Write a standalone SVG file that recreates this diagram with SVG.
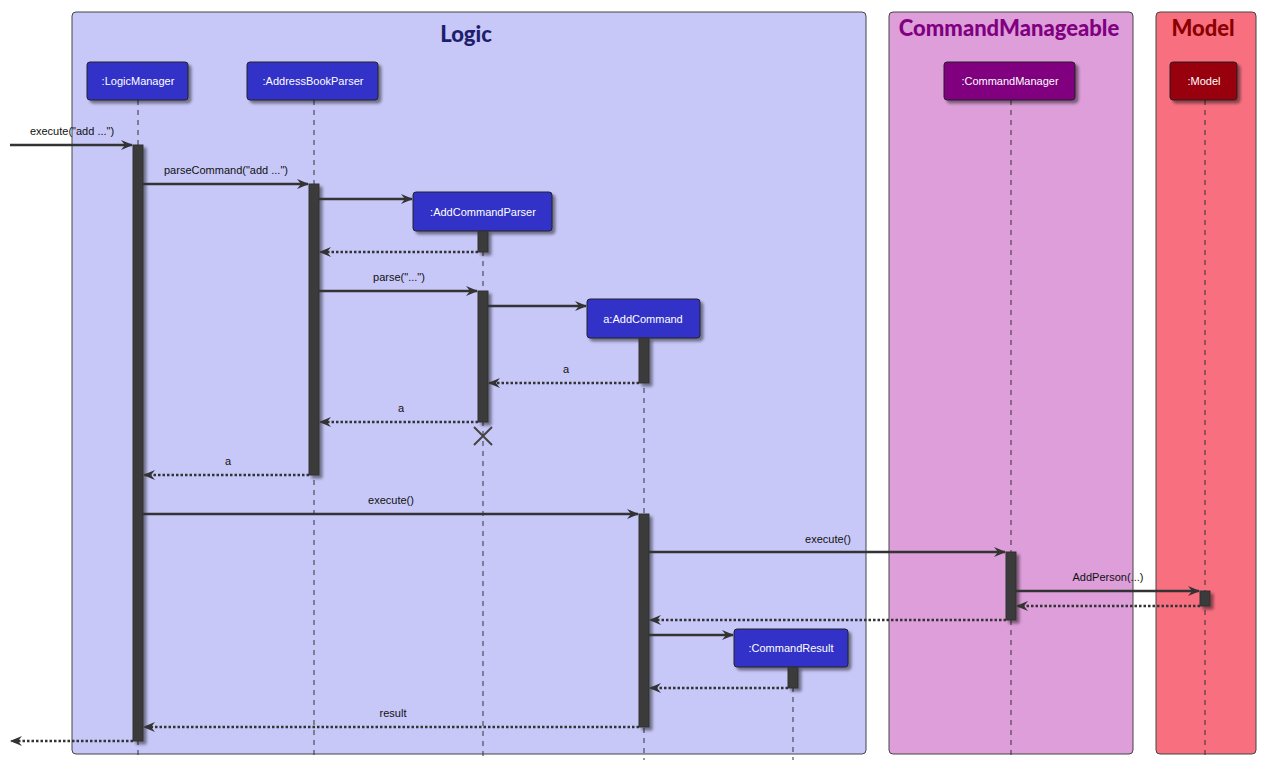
<svg xmlns="http://www.w3.org/2000/svg" width="1265" height="772" viewBox="0 0 1265 772">
<style>
.box{stroke:#444;stroke-width:1}
.title{font-family:Lato,"DejaVu Sans",sans-serif;font-weight:900;font-size:22px;text-anchor:middle}
.part{stroke:#222;stroke-width:1}
.plabel{font-family:"Liberation Sans",Arial,sans-serif;font-size:11px;fill:#fff;text-anchor:middle}
.life{stroke:#333;stroke-width:1;stroke-dasharray:5,5;fill:none}
.act{fill:#3a3a3a;stroke:#333;stroke-width:1}
.msg{stroke:#333;stroke-width:2.5;fill:none;marker-end:url(#ah)}
.ret{stroke:#333;stroke-width:2.5;stroke-dasharray:2.5,2;fill:none;marker-end:url(#ah)}
.mlabel{font-family:"Liberation Sans",Arial,sans-serif;font-size:11px;fill:#111;text-anchor:middle}
</style>
<defs>
<marker id="ah" viewBox="0 0 12 10" refX="11" refY="5" markerWidth="12" markerHeight="10" markerUnits="userSpaceOnUse" orient="auto">
<path d="M0,0 L12,5 L0,10 L4,5 Z" fill="#333"/>
</marker>
<filter id="sh" x="-20%" y="-20%" width="150%" height="160%">
<feGaussianBlur in="SourceAlpha" stdDeviation="1.5"/>
<feOffset dx="3" dy="3" result="b"/>
<feComponentTransfer><feFuncA type="linear" slope="0.45"/></feComponentTransfer>
<feMerge><feMergeNode/><feMergeNode in="SourceGraphic"/></feMerge>
</filter>
</defs>
<rect width="1265" height="772" fill="#fff"/>
<g id="box-logic">
<rect class="box" x="72" y="12" width="794" height="742" rx="4" fill="#C8C8F8"/>
<text class="title" x="466" y="42" fill="#1E1E6E">Logic</text>
</g>
<g id="box-commandmanageable">
<rect class="box" x="889" y="12" width="244" height="742" rx="4" fill="#DD9EDA"/>
<text class="title" x="1009" y="36" fill="#800080" font-size="18">CommandManageable</text>
</g>
<g id="box-model">
<rect class="box" x="1156" y="12" width="100" height="742" rx="4" fill="#F87080"/>
<text class="title" x="1203" y="36" fill="#8B0000" font-size="18">Model</text>
</g>
<g id="lifelines">
<line class="life" x1="138" y1="100" x2="138" y2="760"/>
<line class="life" x1="314" y1="100" x2="314" y2="760"/>
<line class="life" x1="483" y1="231" x2="483" y2="760"/>
<line class="life" x1="644" y1="338" x2="644" y2="760"/>
<line class="life" x1="1011" y1="100" x2="1011" y2="760"/>
<line class="life" x1="1205" y1="100" x2="1205" y2="760"/>
<line class="life" x1="793" y1="667" x2="793" y2="760"/>
</g>
<g id="p-logicmanager">
<rect class="part" x="87" y="62" width="101" height="38" rx="3" fill="#3232C8" filter="url(#sh)"/>
<text class="plabel" x="138" y="85">:LogicManager</text>
</g>
<g id="p-addressbookparser">
<rect class="part" x="247" y="62" width="131" height="38" rx="3" fill="#3232C8" filter="url(#sh)"/>
<text class="plabel" x="313" y="85">:AddressBookParser</text>
</g>
<g id="p-addcommandparser">
<rect class="part" x="413" y="192" width="139" height="39" rx="3" fill="#3232C8" filter="url(#sh)"/>
<text class="plabel" x="483" y="216">:AddCommandParser</text>
</g>
<g id="p-addcommand">
<rect class="part" x="587" y="299" width="113" height="39" rx="3" fill="#3232C8" filter="url(#sh)"/>
<text class="plabel" x="643" y="323">a:AddCommand</text>
</g>
<g id="p-commandmanager">
<rect class="part" x="944" y="62" width="131" height="38" rx="3" fill="#800080" filter="url(#sh)"/>
<text class="plabel" x="1010" y="85">:CommandManager</text>
</g>
<g id="p-model">
<rect class="part" x="1170" y="62" width="67" height="38" rx="3" fill="#990011" filter="url(#sh)"/>
<text class="plabel" x="1204" y="85">:Model</text>
</g>
<g id="p-commandresult">
<rect class="part" x="734" y="629" width="114" height="38" rx="3" fill="#3232C8" filter="url(#sh)"/>
<text class="plabel" x="791" y="652">:CommandResult</text>
</g>
<g id="activations" filter="url(#sh)">
<rect class="act" x="133" y="145" width="10" height="596"/>
<rect class="act" x="309" y="184" width="10" height="291"/>
<rect class="act" x="478" y="231" width="10" height="21"/>
<rect class="act" x="478" y="291" width="10" height="131"/>
<rect class="act" x="639" y="338" width="10" height="45"/>
<rect class="act" x="639" y="514" width="10" height="213"/>
<rect class="act" x="1006" y="552" width="10" height="68"/>
<rect class="act" x="1200" y="591" width="10" height="15"/>
<rect class="act" x="788" y="667" width="10" height="21"/>
</g>
<g id="connectors">
<line class="msg" x1="10" y1="145" x2="132" y2="145"/>
<text class="mlabel" x="72" y="135">execute("add ...")</text>
<line class="msg" x1="143" y1="184" x2="308" y2="184"/>
<text class="mlabel" x="226" y="174">parseCommand("add ...")</text>
<line class="msg" x1="319" y1="199" x2="412" y2="199"/>
<line class="ret" x1="478" y1="252" x2="320" y2="252"/>
<line class="msg" x1="319" y1="291" x2="477" y2="291"/>
<text class="mlabel" x="399" y="281">parse("...")</text>
<line class="msg" x1="488" y1="306" x2="586" y2="306"/>
<line class="ret" x1="639" y1="383" x2="489" y2="383"/>
<text class="mlabel" x="566" y="373">a</text>
<line class="ret" x1="478" y1="422" x2="320" y2="422"/>
<text class="mlabel" x="401" y="412">a</text>
<path d="M474,427 L492,445 M492,427 L474,445" stroke="#444" stroke-width="2" fill="none"/>
<line class="ret" x1="309" y1="475" x2="144" y2="475"/>
<text class="mlabel" x="228" y="465">a</text>
<line class="msg" x1="143" y1="514" x2="638" y2="514"/>
<text class="mlabel" x="391" y="504">execute()</text>
<line class="msg" x1="649" y1="552" x2="1005" y2="552"/>
<text class="mlabel" x="828" y="543">execute()</text>
<line class="msg" x1="1016" y1="591" x2="1199" y2="591"/>
<text class="mlabel" x="1108" y="581">AddPerson(...)</text>
<line class="ret" x1="1200" y1="606" x2="1017" y2="606"/>
<line class="ret" x1="1006" y1="620" x2="650" y2="620"/>
<line class="msg" x1="649" y1="635" x2="733" y2="635"/>
<line class="ret" x1="788" y1="688" x2="650" y2="688"/>
<line class="ret" x1="639" y1="727" x2="144" y2="727"/>
<text class="mlabel" x="393" y="717">result</text>
<line class="ret" x1="133" y1="741" x2="11" y2="741"/>
</g>
</svg>
